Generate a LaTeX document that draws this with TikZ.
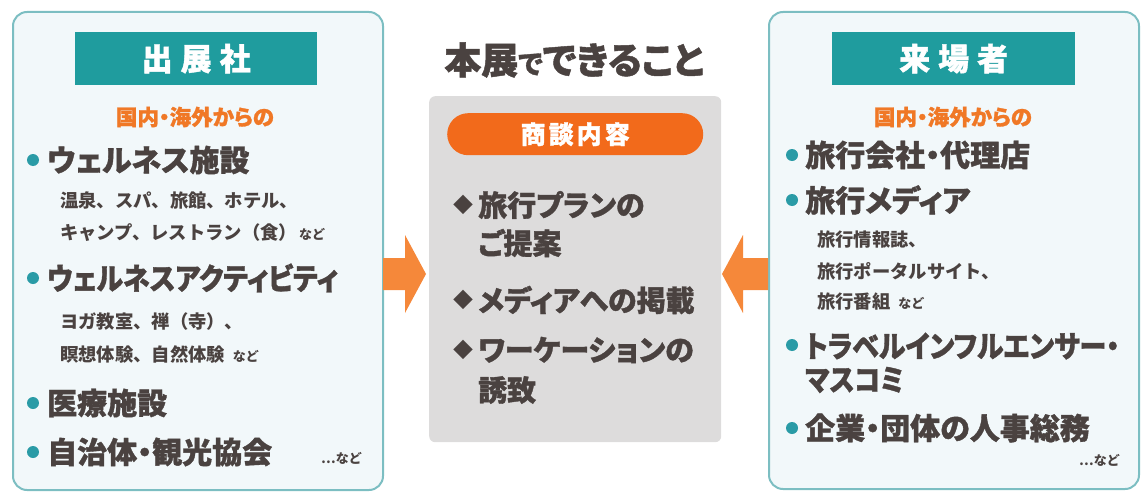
\documentclass[tikz,border=0pt]{standalone}
\usepackage{fontspec}
\setmainfont{Noto Sans CJK JP}
\newfontfamily\palf{Noto Sans CJK JP}[RawFeature=+palt, BoldFeatures={FakeBold=1.2}]
\definecolor{ink}{HTML}{4A4240}
\definecolor{teal}{HTML}{1F9C9E}
\definecolor{dotc}{HTML}{2A9BA6}
\definecolor{pborder}{HTML}{7CBEC2}
\definecolor{pfill}{HTML}{F2F8FA}
\definecolor{orgtxt}{HTML}{F07826}
\definecolor{pillc}{HTML}{F26A1B}
\definecolor{arrowc}{HTML}{F5883A}
\definecolor{grayc}{HTML}{DDDCDC}
\newcommand{\fs}[1]{\fontsize{#1}{#1}\selectfont}
\tikzset{
  panel/.style={draw=pborder, line width=2pt, fill=pfill, rounded corners=14pt, anchor=north west},
  hdr/.style={fill=teal, text=white, anchor=north west, font=\palf\bfseries\fs{31}},
  orange/.style={text=orgtxt, inner sep=0, font=\palf\bfseries\fs{21.5}},
  bdot/.style={circle, fill=dotc, minimum size=12pt, inner sep=0},
  bul/.style={anchor=west, inner sep=0, text=ink, font=\palf\bfseries\fs{30}},
  sub/.style={anchor=west, inner sep=0, text=ink, font=\bfseries\fs{18.3}},
  etc/.style={anchor=east, inner sep=0, text=ink, font=\bfseries\fs{13}},
  gbox/.style={fill=grayc, rounded corners=6pt, anchor=north west},
  pill/.style={fill=pillc, rounded corners=21pt, anchor=north west, text=white, font=\palf\bfseries\fs{25}},
  citem/.style={anchor=west, inner sep=0, text=ink, font=\palf\bfseries\fs{29}},
  dia/.style={inner sep=0, text=ink, font=\fs{20}},
  arr/.style={fill=arrowc}
}
\newcommand{\sm}[1]{{\fs{13}#1}}
\newcommand{\nar}[2]{\scalebox{#1}[1]{#2}}
\begin{document}
\begin{tikzpicture}[x=1pt,y=-1pt]
\useasboundingbox (0,0) rectangle (1147,500);
% panels
\node[panel, minimum width=370pt, minimum height=478pt] (lp) at (12,11) {};
\node[panel, minimum width=370pt, minimum height=477pt] (rp) at (768,11) {};
\node[gbox, minimum width=292pt, minimum height=346pt] (cb) at (429,96) {};
% arrows
\fill[arr] (383,258) -- (405,258) -- (405,235) -- (426,274) -- (405,313) -- (405,290) -- (383,290) -- cycle;
\fill[arr] (768,258) -- (743,258) -- (743,235) -- (722,274) -- (743,313) -- (743,290) -- (768,290) -- cycle;
% headers
\node[hdr, minimum width=242pt, minimum height=53pt] (lh) at (75,32) {出\hspace{8pt}展\hspace{8pt}社};
\node[hdr, minimum width=243pt, minimum height=53pt] (rh) at (832,32) {来\hspace{8pt}場\hspace{8pt}者};
\node[orange] (lo) at (195,117) {国内・海外からの};
\node[orange] (ro) at (953,117) {国内・海外からの};
% left items
\node[bdot] (ld1) at (33,160) {};
\node[bul] (l1) at (47,160) {ウェルネス施設};
\node[sub] (l1a) at (60,200) {温泉、スパ、旅館、ホテル、};
\node[sub] (l1b) at (60,233) {キャンプ、レストラン（食）\hspace{2pt}\sm{など}};
\node[bdot] (ld2) at (33,278) {};
\node[bul] (l2) at (47,278) {\nar{0.9}{ウェルネスアクティビティ}};
\node[sub] (l2a) at (60,322) {ヨガ教室、禅（寺）、};
\node[sub] (l2b) at (60,354) {瞑想体験、自然体験\hspace{8pt}\sm{など}};
\node[bdot] (ld3) at (33,403) {};
\node[bul] (l3) at (47,403) {医療施設};
\node[bdot] (ld4) at (33,452) {};
\node[bul] (l4) at (47,452) {自治体・観光協会};
\node[etc] (le) at (362,458) {⋯など};
% center
\node[inner sep=0, text=ink, font=\palf\bfseries\fs{37}] (ct) at (574,60) {本展{\fs{27}で}できること};
\node[pill, minimum width=256pt, minimum height=42pt] (pl) at (447,113) {商\hspace{3pt}談\hspace{3pt}内\hspace{3pt}容};
\node[dia] (cd1) at (463,205) {◆};
\node[citem] (c1) at (478,205) {旅行プランの};
\node[citem] (c1b) at (478,243) {ご提案};
\node[dia] (cd2) at (463,300) {◆};
\node[citem] (c2) at (478,300) {メディアへの掲載};
\node[dia] (cd3) at (463,350) {◆};
\node[citem] (c3) at (478,350) {ワーケーションの};
\node[citem] (c3b) at (478,390) {誘致};
% right items
\node[bdot] (rd1) at (792,155) {};
\node[bul] (r1) at (805,155) {旅行会社・代理店};
\node[bdot] (rd2) at (792,200) {};
\node[bul] (r2) at (805,200) {旅行メディア};
\node[sub] (r2a) at (817,240) {旅行情報誌、};
\node[sub] (r2b) at (817,271) {旅行ポータルサイト、};
\node[sub] (r2c) at (817,302) {旅行番組\hspace{8pt}\sm{など}};
\node[bdot] (rd3) at (792,345) {};
\node[bul] (r3) at (805,346) {\nar{0.9}{トラベルインフルエンサー・}};
\node[bul] (r3b) at (805,380) {\nar{0.88}{マスコミ}};
\node[bdot] (rd4) at (792,428) {};
\node[bul] (r4) at (805,428) {企業・団体の人事総務};
\node[etc] (re) at (1120,460) {⋯など};
\end{tikzpicture}
\end{document}
